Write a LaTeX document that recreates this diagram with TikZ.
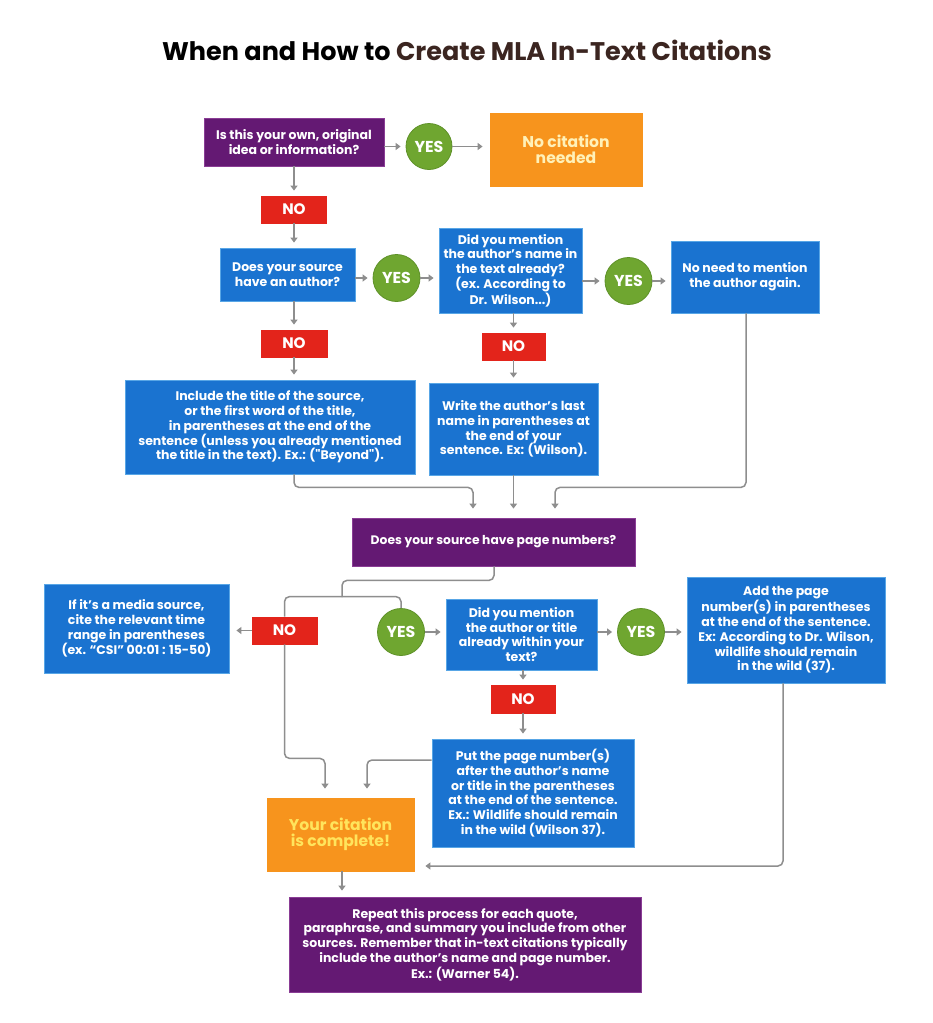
\documentclass[tikz,border=0pt]{standalone}
\usepackage{fontspec}
\setmainfont{Poppins}[Ligatures=TeXOff]
\usetikzlibrary{arrows.meta}
\definecolor{cblue}{HTML}{1A73D0}
\definecolor{cblueb}{HTML}{58A6E6}
\definecolor{cpurple}{HTML}{641973}
\definecolor{cpurpleb}{HTML}{8A3D95}
\definecolor{cred}{HTML}{E3241B}
\definecolor{cgreen}{HTML}{6FA630}
\definecolor{cgreenb}{HTML}{5E9128}
\definecolor{corange}{HTML}{F7941D}
\definecolor{cpale}{HTML}{FFF1B8}
\definecolor{cyel}{HTML}{FFE45C}
\definecolor{cgray}{HTML}{8E8E8E}
\definecolor{cbrown}{HTML}{3B2520}
\begin{document}
\begin{tikzpicture}[x=1pt,y=-1pt,
 box/.style={draw, line width=0.8pt, align=center, text=white, inner sep=2pt, font=\bfseries\fontsize{12.5}{14.8}\selectfont},
 bluebox/.style={box, fill=cblue, draw=cblueb},
 purplebox/.style={box, fill=cpurple, draw=cpurpleb},
 orangebox/.style={box, fill=corange, draw=corange, font=\bfseries\fontsize{15.6}{16.5}\selectfont},
 nobox/.style={box, fill=cred, draw=cred, minimum width=65pt, minimum height=27pt, font=\bfseries\fontsize{15.2}{16}\selectfont},
 yescirc/.style={circle, fill=cgreen, draw=cgreenb, line width=0.8pt, text=white, minimum size=47pt, inner sep=0pt, font=\bfseries\fontsize{15.8}{16}\selectfont},
 arr/.style={draw=cgray, line width=1.5pt, rounded corners=5pt, -{Triangle[length=5pt,width=7pt]}, shorten >=5pt},
 ln/.style={draw=cgray, line width=1.5pt, rounded corners=5pt},
]
\fill[white] (0,0) rectangle (933,1023);
\useasboundingbox (0,0) rectangle (933,1023);

\node[font=\bfseries\fontsize{25.5}{29}\selectfont] (title) at (467,50) {When and How to \textcolor{cbrown}{Create MLA In-Text Citations}};

\node[purplebox, minimum width=180pt, minimum height=48pt] (q1) at (294,142) {Is this your own, original\\idea or information?};
\node[yescirc, minimum size=46pt] (yes1) at (429,146.5) {YES};
\node[orangebox, text=cpale, minimum width=152pt, minimum height=73pt] (nocite) at (566,149.5) {No citation\\needed};
\node[nobox] (no1) at (294,209.5) {NO};

\node[bluebox, minimum width=135pt, minimum height=53pt] (q2) at (287.5,274.5) {Does your source\\have an author?};
\node[yescirc] (yes2) at (396.5,278) {YES};
\node[bluebox, minimum width=143pt, minimum height=85pt] (q3) at (510.5,270.5) {Did you mention\\the author’s name in\\the text already?\\(ex. According to\\Dr. Wilson...)};
\node[yescirc] (yes3) at (628.5,281) {YES};
\node[bluebox, minimum width=148pt, minimum height=72pt] (r4) at (745,277) {No need to mention\\the author again.};

\node[nobox, minimum width=66pt] (no2) at (294,343.5) {NO};
\node[nobox, minimum width=63pt] (no3) at (513.5,346.5) {NO};

\node[bluebox, minimum width=290pt, minimum height=94pt] (r5) at (270,427) {Include the title of the source,\\or the first word of the title,\\in parentheses at the end of the\\sentence (unless you already mentioned\\the title in the text). Ex.: ("Beyond").};
\node[bluebox, minimum width=169pt, minimum height=92pt] (r6) at (513.5,429) {Write the author’s last\\name in parentheses at\\the end of your\\sentence. Ex: (Wilson).};

\node[purplebox, minimum width=283pt, minimum height=48pt, font=\bfseries\fontsize{12.3}{15}\selectfont] (q7) at (493.5,542) {Does your source have page numbers?};

\node[nobox] (no4) at (284.5,630.5) {NO};
\node[yescirc] (yes4) at (401,632) {YES};
\node[bluebox, minimum width=185pt, minimum height=89pt] (media) at (136.5,628.5) {If it’s a media source,\\cite the relevant time\\range in parentheses\\(ex. “CSI” 00:01 : 15-50)};
\node[bluebox, minimum width=151pt, minimum height=71pt] (q8) at (521.5,634.5) {Did you mention\\the author or title\\already within your\\text?};
\node[yescirc] (yes5) at (641,632) {YES};
\node[bluebox, minimum width=198pt, minimum height=106pt] (r9) at (786,630) {Add the page\\number(s) in parentheses\\at the end of the sentence.\\Ex: According to Dr. Wilson,\\wildlife should remain\\in the wild (37).};

\node[nobox, minimum width=64pt, minimum height=28pt] (no5) at (523,699) {NO};
\node[bluebox, minimum width=202pt, minimum height=108pt] (r10) at (533,793) {Put the page number(s)\\after the author’s name\\or title in the parentheses\\at the end of the sentence.\\Ex.: Wildlife should remain\\in the wild (Wilson 37).};
\node[orangebox, text=cyel, minimum width=147pt, minimum height=73pt] (done) at (340.5,834.5) {Your citation\\is complete!};

\node[purplebox, minimum width=352pt, minimum height=95pt] (final) at (465,944.5) {Repeat this process for each quote,\\paraphrase, and summary you include from other\\sources. Remember that in-text citations typically\\include the author’s name and page number.\\Ex.: (Warner 54).};

% connectors
\draw[arr] (q1.east |- yes1) -- (yes1.west);
\draw[arr, shorten >=7pt] (yes1.east) -- (yes1.east -| nocite.west);
\draw[arr] (q1.south) -- (no1.north);
\draw[arr] (no1.south) -- (no1.south |- q2.north);
\draw[arr] (q2.east |- yes2) -- (yes2.west);
\draw[arr] (yes2.east) -- (yes2.east -| q3.west);
\draw[arr] (q3.east |- yes3) -- (yes3.west);
\draw[arr] (yes3.east) -- (yes3.east -| r4.west);
\draw[arr] (q2.south -| no2) -- (no2.north);
\draw[arr] (no2.south) -- (no2.south |- r5.north);
\draw[arr] (q3.south -| no3) -- (no3.north);
\draw[arr] (no3.south) -- (no3.south |- r6.north);

\draw[arr, shorten >=9pt] ([xshift=24pt]r5.south) -- ++(0,13) -| ([xshift=-20.5pt]q7.north);
\draw[arr, shorten >=9pt] (r6.south) -- (r6.south |- q7.north);
\draw[arr, shorten >=9pt] ([xshift=1pt]r4.south) -- ++(0,174) -| ([xshift=61.5pt]q7.north);

\draw[ln] ([xshift=0.5pt]q7.south) -- ++(0,14) -| (342,597);
\draw[ln] (no4.north) -- ++(0,-20) -| (yes4.north);
\draw[arr, shorten >=7pt] (no4.west) -- (no4.west -| media.east);
\draw[arr] (yes4.east) -- (yes4.east -| q8.west);
\draw[arr] (q8.east |- yes5) -- (yes5.west);
\draw[arr] (yes5.east) -- (yes5.east -| r9.west);
\draw[arr] (q8.south -| no5) -- (no5.north);
\draw[arr] (no5.south) -- (no5.south |- r10.north);

\draw[arr, shorten >=9pt] (no4.south) -- ++(0,114) -| ([xshift=-15.5pt]done.north);
\draw[arr, shorten >=9pt] ([yshift=33pt]r10.west) -| ([xshift=26.5pt]done.north);
\draw[arr, shorten >=11pt] ([xshift=-3pt]r9.south) |- ([yshift=-31.5pt]done.east);
\draw[arr, shorten >=6pt] ([xshift=1.5pt]done.south) -- ([xshift=1.5pt]done.south |- final.north);
\end{tikzpicture}
\end{document}
